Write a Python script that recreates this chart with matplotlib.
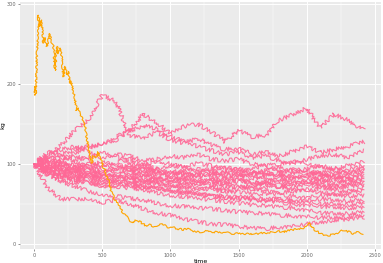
import matplotlib
matplotlib.use("Agg")
import matplotlib.pyplot as plt
from matplotlib.ticker import MultipleLocator

# ---------------- data ----------------
times = [0, 100, 200, 300, 400, 500, 600, 700, 800, 900, 1000, 1100, 1200,
         1300, 1400, 1500, 1600, 1700, 1800, 1900, 2000, 2100, 2200, 2300, 2420]

pink_series = {
    "p01": [100, 104, 112, 118, 122, 126, 130, 142, 162, 152, 138, 147, 150, 140, 128, 142, 134, 136, 155, 162, 170, 145, 162, 155, 142],
    "p02": [100, 108, 124, 142, 156, 186, 178, 136, 132, 140, 130, 126, 132, 124, 118, 120, 112, 115, 110, 116, 122, 114, 118, 122, 128],
    "p03": [100, 98, 106, 114, 120, 126, 134, 141, 148, 144, 135, 128, 122, 117, 112, 115, 108, 110, 104, 100, 106, 110, 112, 108, 117],
    "p04": [100, 112, 118, 122, 115, 108, 112, 110, 104, 106, 110, 108, 112, 106, 104, 106, 100, 98, 100, 104, 100, 96, 94, 98, 103],
    "p05": [100, 115, 110, 104, 108, 116, 110, 102, 98, 104, 100, 96, 101, 98, 94, 90, 94, 98, 92, 88, 94, 98, 94, 92, 98],
    "p06": [100, 96, 104, 110, 104, 98, 102, 106, 100, 94, 98, 96, 90, 94, 96, 92, 88, 92, 96, 92, 86, 90, 92, 88, 95],
    "p07": [100, 92, 98, 102, 96, 90, 94, 98, 96, 90, 86, 92, 94, 88, 90, 94, 90, 86, 84, 88, 92, 88, 84, 86, 90],
    "p08": [100, 104, 96, 92, 98, 104, 100, 94, 90, 94, 90, 86, 88, 92, 86, 84, 88, 90, 86, 82, 86, 88, 84, 82, 88],
    "p09": [100, 98, 92, 96, 100, 94, 90, 96, 92, 88, 92, 88, 84, 86, 90, 86, 82, 84, 88, 84, 80, 84, 86, 82, 85],
    "p10": [100, 94, 100, 94, 88, 92, 96, 90, 86, 90, 84, 82, 86, 82, 80, 84, 86, 80, 78, 82, 84, 80, 78, 80, 82],
    "p11": [100, 106, 100, 96, 92, 88, 86, 90, 88, 84, 80, 84, 80, 78, 82, 80, 76, 78, 82, 78, 76, 80, 82, 78, 80],
    "p12": [100, 90, 86, 90, 94, 88, 84, 82, 86, 82, 78, 80, 78, 74, 76, 80, 78, 74, 72, 76, 78, 74, 72, 74, 76],
    "p13": [100, 102, 94, 88, 84, 88, 86, 80, 78, 82, 80, 76, 74, 78, 74, 70, 72, 76, 72, 70, 74, 72, 70, 72, 74],
    "p14": [100, 88, 84, 86, 80, 76, 80, 84, 80, 76, 72, 74, 76, 72, 70, 72, 68, 70, 72, 68, 66, 70, 68, 66, 70],
    "p15": [100, 96, 90, 84, 86, 82, 78, 76, 74, 78, 74, 70, 68, 70, 66, 68, 70, 66, 64, 66, 68, 64, 62, 64, 67],
    "p16": [100, 92, 86, 82, 84, 80, 82, 80, 78, 76, 74, 72, 70, 68, 66, 65, 62, 63, 62, 60, 58, 60, 62, 60, 61],
    "p17": [100, 86, 80, 76, 78, 72, 74, 72, 70, 70, 68, 64, 62, 60, 60, 58, 58, 56, 57, 55, 54, 56, 55, 54, 55],
    "p18": [100, 90, 84, 80, 82, 78, 76, 74, 72, 70, 66, 64, 62, 60, 58, 57, 56, 54, 55, 53, 52, 50, 50, 49, 51],
    "p19": [100, 98, 92, 90, 86, 84, 80, 76, 72, 70, 68, 66, 64, 60, 58, 56, 55, 54, 52, 50, 48, 47, 46, 45, 46],
    "p20": [100, 92, 86, 80, 76, 74, 72, 70, 68, 64, 61, 59, 57, 55, 53, 51, 49, 48, 46, 45, 42, 39, 38, 38, 40],
    "p21": [100, 88, 78, 72, 66, 62, 60, 57, 55, 51, 48, 47, 45, 44, 42, 40, 39, 38, 36, 35, 34, 33, 33, 34, 36],
    "p22": [100, 70, 56, 56, 57, 52, 55, 50, 44, 39, 36, 31, 28, 25, 24, 22, 20, 19, 21, 22, 25, 27, 30, 31, 33],
    "p23": [100, 110, 102, 98, 94, 100, 96, 92, 96, 92, 88, 90, 86, 88, 84, 88, 90, 86, 90, 94, 90, 86, 88, 90, 92],
    "p24": [100, 94, 90, 92, 88, 84, 88, 86, 82, 80, 84, 80, 78, 80, 76, 78, 74, 76, 78, 74, 76, 78, 74, 76, 78],
}

orange_times = [0, 7, 12, 20, 32, 44, 56, 68, 80, 93, 105, 117, 130, 142, 154, 165, 171, 180, 191,
                203, 215, 227, 240, 251, 264, 276, 288, 300, 313, 325, 337, 349, 362, 374, 386, 398,
                411, 423, 435, 447, 460, 471, 484, 496, 508, 520, 533, 545, 557, 570, 582, 594, 606,
                618, 630, 643, 655, 667, 680, 692, 704, 716, 728, 740, 753, 765, 777, 790, 801, 826,
                850, 875, 900, 924, 948, 973, 997, 1020, 1050, 1095, 1130, 1170, 1217, 1260, 1300,
                1339, 1380, 1420, 1461, 1500, 1540, 1583, 1620, 1660, 1706, 1750, 1790, 1828, 1865,
                1901, 1940, 1975, 1995, 2011, 2024, 2036, 2055, 2073, 2100, 2125, 2146, 2170, 2195,
                2219, 2240, 2256, 2275, 2293, 2317, 2341, 2360, 2378, 2395, 2414]
orange_values = [190, 197, 186, 230, 286, 272, 280, 251, 258, 247, 255, 263, 250, 247, 217, 240, 247, 238, 245,
                 234, 209, 222, 212, 216, 200, 203, 190, 182, 167, 170, 163, 159, 152, 147, 132, 122,
                 109, 101, 110, 107, 109, 115, 107, 105, 96, 92, 86, 80, 72, 63, 60, 55, 52,
                 50, 47, 42, 38, 36, 34, 31, 28, 26, 26, 30, 29, 27, 28, 26, 25, 22,
                 24, 22, 23, 25, 24, 22, 20, 21, 19, 18, 19, 16, 15, 16, 15,
                 15, 14, 14, 13, 13, 12, 13, 12, 14, 14, 15, 16, 15, 17,
                 18, 19, 20, 23, 27, 24, 22, 18, 16, 13, 11, 10, 11, 12,
                 13, 15, 17, 16, 16, 15, 13, 14, 15, 14, 13]

x_ticks = [0, 500, 1000, 1500, 2000, 2500]
y_ticks = [0, 100, 200, 300]

# ---------------- figure ----------------
fig = plt.figure(figsize=(3.83, 2.63), dpi=100)
ax = fig.add_axes([20 / 383, 14 / 263, 361 / 383, 247 / 263])
ax.set_facecolor("#EBEBEB")
for s in ax.spines.values():
    s.set_visible(False)

ax.set_xlim(-103, 2545)
ax.set_ylim(-6.25, 302.5)
ax.set_xticks(x_ticks)
ax.set_yticks(y_ticks)
ax.xaxis.set_minor_locator(MultipleLocator(250))
ax.yaxis.set_minor_locator(MultipleLocator(50))
ax.grid(which="major", color="white", linewidth=0.7)
ax.grid(which="minor", color="white", linewidth=0.35)
ax.set_axisbelow(True)
ax.tick_params(which="major", labelsize=3.6, colors="#666666", length=1.6, width=0.5, pad=1.2)
ax.tick_params(which="minor", length=0)

for name, vals in pink_series.items():
    ln, = ax.plot(times, vals, color="#FF6896", linewidth=0.8, alpha=0.9)
    ln.set_sketch_params(scale=2.0, length=1.6, randomness=12)

ln, = ax.plot(orange_times, orange_values, color="#FFA500", linewidth=0.8)
ln.set_sketch_params(scale=0.9, length=1.6, randomness=12)

ax.set_xlabel("time", fontsize=4.5, labelpad=1)
ax.set_ylabel("kg", fontsize=4.5)
ax.yaxis.set_label_coords(-0.04, 0.5)

fig.savefig("out.png", dpi=100)
